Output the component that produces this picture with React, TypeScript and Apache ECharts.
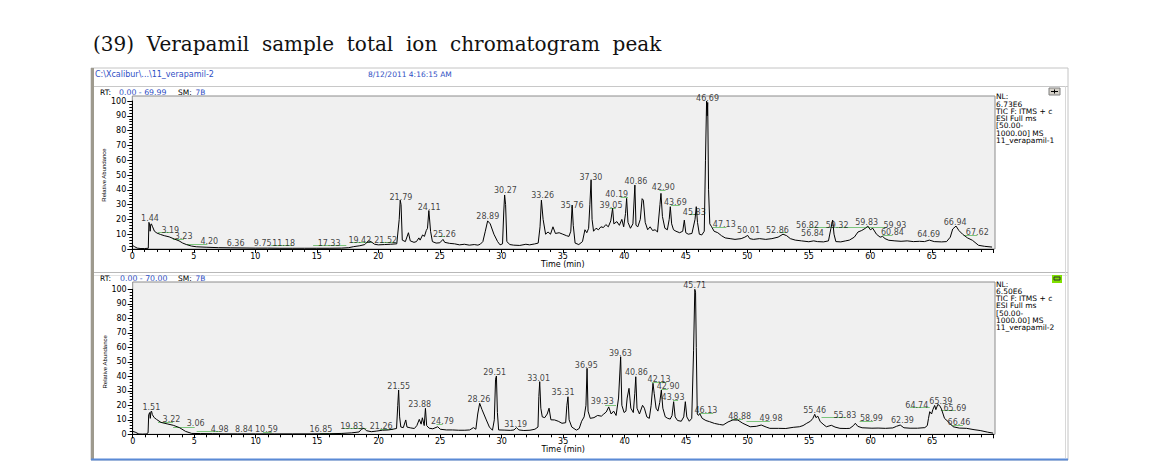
import React, { useEffect, useRef } from "react";
import * as echarts from "echarts";

// ---------- DATA ----------
// Top chromatogram (11_verapamil-1): [time (min), relative abundance]
const topTrace: number[][] = [
  [0.0, 2.5], [0.2, 1.5], [0.4, 0.6], [0.7, 0.3], [1.0, 0.3], [1.3, 0.5], [1.35, 18], [1.4, 17], [1.45, 12],
  [1.5, 16.5], [1.55, 17], [1.65, 15], [1.8, 12], [2.0, 10.8], [2.3, 9.8], [2.6, 9], [3.0, 8.2], [3.4, 6.8],
  [3.8, 5.5], [4.1, 4], [4.4, 3], [4.8, 2], [5.2, 1.5], [6.0, 1.2], [7.0, 0.9], [8.0, 0.8], [9.0, 0.7],
  [10.0, 0.6], [11.0, 0.6], [12.0, 0.5], [13.0, 0.5], [14.0, 0.5], [15.0, 0.5], [16.0, 0.5], [17.0, 0.6],
  [17.6, 0.9], [18.0, 1.6], [18.5, 2.2], [18.9, 3], [19.2, 5.5], [19.4, 5], [19.7, 3.2], [20.0, 2.8],
  [20.5, 3], [21.0, 3.2], [21.5, 3.5], [21.7, 20], [21.78, 33], [21.85, 30], [21.95, 6], [22.2, 5],
  [22.45, 11], [22.6, 5.5], [22.9, 4.5], [23.1, 5], [23.3, 7.5], [23.4, 6], [23.6, 9.5], [23.75, 8.5],
  [23.9, 12.5], [24.0, 14], [24.11, 26], [24.25, 12], [24.4, 5], [24.7, 4], [25.0, 4.2], [25.26, 6.5],
  [25.4, 4.5], [25.8, 3.8], [26.2, 3.5], [26.6, 2.8], [27.0, 3.2], [27.4, 2.6], [27.8, 3], [28.1, 2.6],
  [28.3, 3.3], [28.5, 5], [28.7, 12], [28.89, 19], [29.1, 17], [29.4, 10], [29.7, 5], [29.9, 2.8],
  [30.1, 3.5], [30.2, 25], [30.27, 36.5], [30.35, 30], [30.45, 5], [30.7, 3], [31.0, 2.6], [31.5, 2.4],
  [32.0, 3.2], [32.3, 2.8], [32.7, 3.4], [33.0, 4], [33.15, 15], [33.26, 33], [33.4, 20], [33.6, 10],
  [33.8, 11.5], [34.0, 10], [34.2, 15], [34.4, 10.5], [34.7, 11], [35.0, 10], [35.3, 9], [35.5, 8.5],
  [35.65, 12], [35.76, 29.7], [35.85, 16], [36.0, 4], [36.3, 3], [36.6, 5], [36.8, 13], [36.95, 11],
  [37.1, 14], [37.2, 30], [37.3, 46.6], [37.38, 20], [37.5, 12], [37.7, 14], [37.9, 13], [38.1, 15],
  [38.3, 14.5], [38.5, 16.5], [38.7, 15], [38.9, 19], [39.05, 27.5], [39.15, 17], [39.4, 18.5],
  [39.6, 16], [39.8, 20], [39.95, 15], [40.1, 24], [40.19, 34.2], [40.3, 18], [40.5, 14], [40.7, 17],
  [40.86, 43.2], [40.95, 16], [41.1, 15], [41.3, 20], [41.45, 34], [41.55, 33], [41.7, 18], [41.9, 13],
  [42.1, 15], [42.3, 12.5], [42.5, 13], [42.7, 11.5], [42.9, 30], [42.98, 37.6], [43.1, 22], [43.3, 14],
  [43.5, 13], [43.65, 20], [43.74, 28.6], [43.85, 17], [44.0, 13], [44.2, 12], [44.5, 11], [44.75, 12],
  [44.88, 19.5], [45.0, 11], [45.2, 10], [45.5, 10.5], [45.75, 20], [45.85, 28.6], [45.95, 18],
  [46.1, 10], [46.3, 9.5], [46.5, 12], [46.6, 60], [46.69, 100], [46.74, 90], [46.78, 99], [46.85, 40],
  [46.95, 17], [47.1, 15], [47.3, 12], [47.6, 11], [47.9, 9], [48.2, 7.5], [48.6, 7], [49.0, 6.5],
  [49.5, 7], [49.8, 8], [50.03, 9.2], [50.2, 7], [50.5, 6.5], [51.0, 7], [51.5, 6.5], [52.0, 7],
  [52.5, 8], [52.9, 10], [53.2, 9], [53.5, 7], [53.9, 6], [54.4, 5.5], [55.0, 4.9], [55.4, 5.5],
  [55.7, 5], [56.2, 4.8], [56.6, 5.5], [56.8, 14], [56.94, 19.5], [57.05, 10], [57.2, 5], [57.6, 4.8],
  [58.0, 5.5], [58.3, 6], [58.7, 8], [59.0, 11.5], [59.3, 12.5], [59.6, 14], [59.8, 15.5], [60.0, 13],
  [60.2, 14], [60.5, 10], [60.8, 8], [61.0, 8.5], [61.2, 7], [61.5, 5.9], [62.0, 5.5], [62.5, 5.2],
  [63.0, 5.5], [63.5, 5], [64.0, 5.2], [64.4, 5], [64.8, 6], [65.2, 5], [65.8, 4.8], [66.2, 5],
  [66.5, 8], [66.7, 13.5], [66.97, 15.5], [67.2, 12.5], [67.5, 10], [67.9, 7.5], [68.3, 5.9],
  [68.8, 2.5], [69.3, 1.8], [69.9, 1.3],
];

// Bottom chromatogram (11_verapamil-2)
const bottomTrace: number[][] = [
  [0.0, 2], [0.2, 1.5], [0.5, 0.2], [0.8, 0.1], [1.1, 0.2], [1.25, 1], [1.3, 13.5], [1.38, 15], [1.43, 11],
  [1.48, 15.5], [1.53, 16], [1.6, 13.5], [1.75, 11.5], [1.95, 10.2], [2.3, 8.2], [2.8, 7.2], [3.3, 6.2],
  [3.8, 4.6], [4.3, 2], [4.8, 0.6], [5.5, 0.5], [6.5, 0.4], [7.5, 0.3], [8.5, 0.3], [10.0, 0.3],
  [11.5, 0.3], [13.0, 0.3], [14.5, 0.3], [16.0, 0.4], [17.0, 0.6], [17.8, 1], [18.4, 1.6], [18.6, 3.5],
  [18.8, 4.2], [19.0, 2.5], [19.4, 1.8], [19.8, 2.2], [20.3, 2.8], [20.8, 3], [21.2, 3.6], [21.45, 4],
  [21.55, 20], [21.62, 30.5], [21.7, 12], [21.8, 5], [22.0, 4.6], [22.2, 9.9], [22.3, 5], [22.6, 4.4],
  [22.9, 4], [23.1, 6], [23.3, 10.3], [23.45, 7], [23.55, 11.4], [23.7, 6], [23.8, 17.9], [23.9, 6],
  [24.1, 4.2], [24.4, 3.8], [24.8, 5.2], [25.0, 3.5], [25.5, 3], [26.0, 3], [26.5, 2.8], [27.0, 2.8],
  [27.4, 3], [27.7, 4.6], [27.9, 3.5], [28.05, 14], [28.21, 21.4], [28.4, 17], [28.75, 9.9], [29.0, 5],
  [29.25, 2.8], [29.4, 10], [29.5, 38], [29.57, 40.2], [29.65, 15], [29.75, 3], [30.2, 2.9], [30.7, 2.7],
  [31.0, 3], [31.2, 4.6], [31.4, 3], [31.8, 2.6], [32.3, 2.8], [32.7, 3.5], [32.95, 5], [33.02, 26],
  [33.09, 36.3], [33.18, 18], [33.3, 12], [33.5, 11.5], [33.7, 14], [33.85, 18], [34.0, 10], [34.3, 9.9],
  [34.6, 9], [34.9, 7.6], [35.2, 8], [35.3, 20], [35.39, 25.9], [35.48, 10], [35.7, 5], [36.07, 2.9],
  [36.3, 4], [36.5, 9], [36.7, 12], [36.85, 20], [36.94, 45.5], [37.02, 16], [37.2, 11], [37.5, 11.5],
  [37.8, 13], [38.1, 12.5], [38.3, 14], [38.5, 15.4], [38.7, 18.9], [38.9, 14], [39.1, 16], [39.3, 13],
  [39.5, 25], [39.67, 53.5], [39.77, 20], [39.95, 15], [40.1, 16], [40.2, 25], [40.35, 31.7], [40.5, 18],
  [40.7, 15], [40.82, 28], [40.9, 39.7], [41.0, 18], [41.2, 14], [41.45, 20], [41.6, 18], [41.8, 12],
  [42.0, 11], [42.15, 20], [42.3, 35.2], [42.4, 28], [42.55, 18], [42.7, 16], [42.85, 22], [42.98, 30.5],
  [43.1, 18], [43.3, 12], [43.5, 11], [43.7, 10.5], [43.85, 13], [43.98, 22.5], [44.1, 12], [44.3, 9.5],
  [44.6, 9], [44.8, 12], [44.93, 22.5], [45.05, 12], [45.25, 9], [45.45, 11], [45.6, 58], [45.7, 100],
  [45.76, 98], [45.82, 60], [45.9, 14], [46.0, 13], [46.1, 14.3], [46.3, 11], [46.6, 9.5], [46.9, 8.7],
  [47.3, 7.5], [47.7, 6.8], [48.0, 6.4], [48.4, 8.5], [48.8, 9.9], [49.2, 9.8], [49.6, 7.6], [50.2, 5.2],
  [50.7, 5.5], [51.1, 6.4], [51.5, 5], [51.8, 4.1], [52.5, 4.1], [53.1, 4], [53.7, 4.8], [54.2, 5.2],
  [54.5, 6], [54.8, 7.6], [55.1, 9], [55.3, 11], [55.45, 13.8], [55.55, 11.5], [55.7, 12.5], [55.9, 8.7],
  [56.2, 6.5], [56.4, 5.2], [56.8, 6.2], [57.1, 5], [57.5, 4.1], [58.0, 4], [58.3, 4.1], [58.6, 6],
  [58.75, 7.6], [58.95, 5.5], [59.3, 4.5], [60.1, 4.2], [60.6, 4.3], [61.2, 4.1], [61.8, 4.4], [62.1, 5.5],
  [62.4, 6.4], [62.7, 4.5], [63.2, 4.2], [63.8, 4.2], [64.4, 4.6], [64.6, 6], [64.7, 11], [64.8, 15.6],
  [64.95, 14], [65.05, 17], [65.2, 19.9], [65.3, 17], [65.45, 20.5], [65.6, 19.9], [65.75, 17.5],
  [66.0, 11], [66.3, 8.7], [66.7, 5.2], [67.2, 4.3], [67.8, 4.1], [68.4, 3.2], [68.9, 2.6], [69.5, 1.5],
  [69.95, 0.8],
];

// Peak labels: [text, time at label centre, abundance at label centre]
const topLabels: [string, number, number][] = [
  ["1.44", 1.44, 20.7], ["3.19", 3.09, 12.8], ["3.23", 4.17, 8.3], ["4.20", 6.26, 4.9],
  ["6.36", 8.4, 3.8], ["9.75", 10.6, 3.4], ["11.18", 12.3, 3.4], ["17.33", 16.0, 3.4],
  ["19.42", 18.5, 5.6], ["21.52", 20.6, 6.0], ["21.79", 21.84, 34.9], ["24.11", 24.14, 28.2],
  ["25.26", 25.37, 10.1], ["28.89", 28.9, 21.8], ["30.27", 30.33, 39.4], ["33.26", 33.36, 36.1],
  ["35.76", 35.75, 29.3], ["37.30", 37.29, 48.4], ["39.05", 38.92, 29.1], ["40.19", 39.38, 37.0],
  ["40.86", 40.95, 45.5], ["42.90", 43.17, 41.4], ["43.69", 44.15, 31.2], ["45.83", 45.69, 24.4],
  ["46.69", 46.77, 101.8], ["47.13", 48.13, 16.7], ["50.01", 50.1, 12.4], ["52.86", 52.45, 12.4],
  ["56.82", 54.9, 15.8], ["56.84", 55.3, 10.2], ["59.32", 57.3, 15.8], ["59.83", 59.7, 17.8],
  ["59.93", 62.0, 16.2], ["60.84", 61.8, 11.1], ["64.69", 64.75, 9.5], ["66.94", 66.9, 17.8],
  ["67.62", 68.7, 11.1],
];
const bottomLabels: [string, number, number][] = [
  ["1.51", 1.52, 18.6], ["3.22", 3.15, 9.9], ["3.06", 5.12, 7.6], ["4.98", 7.07, 3.4],
  ["8.84", 9.05, 3.4], ["10.59", 10.87, 3.4], ["16.85", 15.3, 3.4], ["19.83", 17.8, 5.7],
  ["21.26", 20.2, 5.7], ["21.55", 21.63, 33.3], ["23.88", 23.33, 20.6], ["24.79", 25.18, 8.7],
  ["28.26", 28.15, 23.7], ["29.51", 29.43, 42.7], ["31.19", 31.14, 6.9], ["33.01", 33.0, 38.6],
  ["35.31", 34.99, 28.7], ["36.95", 36.88, 47.3], ["39.33", 38.18, 22.3], ["39.63", 39.65, 55.8],
  ["40.86", 40.95, 42.7], ["42.13", 42.79, 38.1], ["42.90", 43.53, 32.8], ["43.93", 43.93, 25.2],
  ["45.71", 45.69, 102.9], ["46.13", 46.6, 16.1], ["48.88", 49.35, 12.1], ["49.98", 51.9, 10.6],
  ["55.46", 55.45, 16.7], ["55.83", 57.9, 13.3], ["58.99", 60.06, 10.6], ["62.39", 62.58, 9.2],
  ["64.74", 63.75, 20.2], ["65.39", 65.7, 22.8], ["65.69", 66.85, 17.9], ["66.46", 67.18, 8.3],
];

// Green leader lines: [from time, to time, abundance]
const topLeaders: number[][] = [
  [2.1, 3.1, 11], [3.3, 4.2, 6.5], [4.4, 6.1, 3.4], [11.3, 13.0, 2.3], [14.7, 17.4, 2.3],
  [17.8, 19.5, 4.5], [20.1, 21.4, 4.3], [24.9, 25.4, 8.3], [38.8, 39.3, 27.4], [39.7, 40.3, 35],
  [42.85, 43.35, 39.9], [43.8, 44.5, 29.7], [45.3, 45.95, 23.3], [47.2, 48.3, 15], [52.6, 53.15, 11],
  [55.0, 61.3, 14.4], [61.0, 61.8, 9.4], [67.6, 68.7, 9.4],
];
const bottomLeaders: number[][] = [
  [2.06, 3.28, 8.3], [3.28, 5.04, 5.2], [5.2, 7.1, 1.8], [10.6, 11.3, 1.1], [15.2, 17.1, 0.6],
  [17.1, 19.0, 4.1], [20.1, 21.2, 3.6], [24.7, 25.2, 7], [38.4, 39.3, 20.2], [42.2, 43.4, 36.2],
  [42.98, 43.5, 31], [43.93, 44.34, 23.7], [46.1, 47.2, 14.4], [48.67, 49.62, 10.6], [49.9, 51.8, 8.7],
  [56.0, 58.0, 11.7], [59.1, 60.2, 8.7], [63.2, 64.8, 18.4], [65.7, 66.8, 16.3], [66.6, 67.5, 6.4],
];

const yTicks = [0, 10, 20, 30, 40, 50, 60, 70, 80, 90, 100];
const titleWords = ["(39)", "Verapamil", "sample", "total", "ion", "chromatogram", "peak"];
const topInfo = ["NL:", "6.73E6", "TIC F: ITMS + c", "ESI Full ms", "[50.00-", "1000.00] MS", "11_verapamil-1"];
const bottomInfo = ["NL:", "6.50E6", "TIC F: ITMS + c", "ESI Full ms", "[50.00-", "1000.00] MS", "11_verapamil-2"];

// ---------- STYLE ----------
const F = "DejaVu Sans";
const BLUE = "#2f4fc4";
const GREEN = "#7cc47c";

const xAxisCfg = (gridIndex: number) => ({
  type: "value",
  gridIndex,
  min: 0,
  max: 70,
  interval: 5,
  axisLine: { show: true, lineStyle: { color: "#000", width: 1 } },
  axisTick: { show: true, length: 4, lineStyle: { color: "#000" } },
  minorTick: { show: true, splitNumber: 5, length: 3, lineStyle: { color: "#000" } },
  axisLabel: {
    fontSize: 8, fontFamily: F, color: "#000", margin: 3,
    formatter: (v: number) => (v >= 70 ? "" : String(v)),
  },
  splitLine: { show: false },
  name: "Time (min)",
  nameLocation: "middle",
  nameGap: 11,
  nameMoveOverlap: false,
  nameTextStyle: { fontSize: 8, fontFamily: F, color: "#000", verticalAlign: "top" },
});

const yAxisCfg = (gridIndex: number) => ({
  type: "value",
  gridIndex,
  min: 0,
  max: 100,
  interval: 10,
  axisLine: { show: true, lineStyle: { color: "#000", width: 1 } },
  axisTick: { show: true, length: 5, lineStyle: { color: "#000" } },
  minorTick: { show: true, splitNumber: 5, length: 3, lineStyle: { color: "#000" } },
  axisLabel: {
    fontSize: 8, fontFamily: F, color: "#000", margin: 6,
    formatter: (v: number) => (yTicks.includes(v) ? String(v) : ""),
  },
  splitLine: { show: false },
  name: "Relative Abundance",
  nameLocation: "middle",
  nameGap: 25,
  nameRotate: 90,
  nameMoveOverlap: false,
  nameTextStyle: { fontSize: 6, fontFamily: "Liberation Sans Narrow, Liberation Sans", color: "#000" },
});

const labelSeries = (idx: number, labels: [string, number, number][]) => ({
  type: "scatter",
  xAxisIndex: idx,
  yAxisIndex: idx,
  symbolSize: 1,
  clip: false,
  silent: true,
  itemStyle: { color: "rgba(0,0,0,0)" },
  label: {
    show: true,
    position: "inside",
    formatter: "{b}",
    fontSize: 8,
    fontFamily: F,
    color: "#111",
  },
  data: labels.map(([text, t, v]) => ({ name: text, value: [t, v] })),
  z: 5,
});

const leaderSeries = (idx: number, leaders: number[][]) => ({
  type: "lines",
  coordinateSystem: "cartesian2d",
  xAxisIndex: idx,
  yAxisIndex: idx,
  silent: true,
  lineStyle: { color: GREEN, width: 1, opacity: 1 },
  data: leaders.map(([a, b, v]) => ({ coords: [[a, v], [b, v]] })),
  z: 3,
});

const txt = (x: number, y: number, text: string, opts: any = {}) => ({
  type: "text",
  x,
  y,
  z: 10,
  style: {
    text,
    fontSize: opts.fontSize ?? 7.5,
    fontFamily: opts.fontFamily ?? F,
    fill: opts.fill ?? "#000",
    textAlign: opts.align ?? "left",
    textVerticalAlign: "middle",
  },
});

const infoBlock = (lines: string[], y0: number) =>
  lines.map((l, i) => txt(996, y0 + i * 7.3, l, { fontSize: 7.5 }));

const option: any = {
  animation: false,
  backgroundColor: "#ffffff",
  grid: [
    { left: 132.3, top: 101, width: 861, height: 148, show: false },
    { left: 132.7, top: 289.3, width: 861, height: 145, show: false },
  ],
  xAxis: [xAxisCfg(0), xAxisCfg(1)],
  yAxis: [yAxisCfg(0), yAxisCfg(1)],
  graphic: [
    // title
    txt(93, 44, titleWords.join("\u00a0\u00a0"), { fontSize: 20, fontFamily: "DejaVu Serif", fill: "#111" }),
    // outer frame
    { type: "rect", z: -20, shape: { x: 91, y: 68, width: 977, height: 392 }, style: { fill: "#fff", stroke: "#c4c4c4", lineWidth: 1 } },
    { type: "rect", z: -19, shape: { x: 91, y: 68, width: 3, height: 392 }, style: { fill: "#9e9a8e" } },
    { type: "line", z: -19, shape: { x1: 94, y1: 86.5, x2: 1068, y2: 86.5 }, style: { stroke: "#c8c8c8", lineWidth: 1 } },
    { type: "line", z: -19, shape: { x1: 94, y1: 272.5, x2: 1068, y2: 272.5 }, style: { stroke: "#b8b8b8", lineWidth: 1 } },
    { type: "line", z: -19, shape: { x1: 94, y1: 275.5, x2: 1068, y2: 275.5 }, style: { stroke: "#e2e2e2", lineWidth: 1 } },
    { type: "line", z: -19, shape: { x1: 1065.5, y1: 86, x2: 1065.5, y2: 458 }, style: { stroke: "#d8d8d8", lineWidth: 1 } },
    { type: "rect", z: -19, shape: { x: 91, y: 458.5, width: 977, height: 2 }, style: { fill: "#5a8ad6" } },
    // plot boxes
    { type: "rect", z: -10, shape: { x: 132.3, y: 96, width: 862.7, height: 153 }, style: { fill: "#f0f0f0", stroke: "#8c8c8c", lineWidth: 1 } },
    { type: "rect", z: -10, shape: { x: 132.7, y: 282, width: 862.3, height: 152.3 }, style: { fill: "#f0f0f0", stroke: "#8c8c8c", lineWidth: 1 } },
    // header
    txt(95, 74, "C:\\Xcalibur\\...\\11_verapamil-2", { fill: BLUE, fontSize: 8 }),
    txt(368, 74, "8/12/2011 4:16:15 AM", { fill: BLUE, fontSize: 7.5 }),
    // RT lines
    txt(100, 92, "RT:", { fontSize: 7.5 }),
    txt(119, 92, "0.00 - 69.99", { fill: BLUE, fontSize: 7.8 }),
    txt(178, 92, "SM:", { fontSize: 7.5 }),
    txt(195.5, 92, "7B", { fill: BLUE, fontSize: 7.5 }),
    txt(100, 278.5, "RT:", { fontSize: 7.5 }),
    txt(120, 278.5, "0.00 - 70.00", { fill: BLUE, fontSize: 7.8 }),
    txt(178, 278.5, "SM:", { fontSize: 7.5 }),
    txt(195.5, 278.5, "7B", { fill: BLUE, fontSize: 7.5 }),
    // info blocks
    ...infoBlock(topInfo, 96.7),
    ...infoBlock(bottomInfo, 284),
    // icons
    { type: "rect", z: 5, shape: { x: 1049, y: 88, width: 11, height: 7 }, style: { fill: "#d4d0c8", stroke: "#808080", lineWidth: 1 } },
    { type: "line", z: 6, shape: { x1: 1051, y1: 91.5, x2: 1058, y2: 91.5 }, style: { stroke: "#000", lineWidth: 1 } },
    { type: "line", z: 6, shape: { x1: 1054.5, y1: 89.5, x2: 1054.5, y2: 93.5 }, style: { stroke: "#000", lineWidth: 1 } },
    { type: "rect", z: 5, shape: { x: 1052, y: 275, width: 10, height: 8 }, style: { fill: "#7fe000" } },
    { type: "rect", z: 6, shape: { x: 1054, y: 277, width: 6, height: 3 }, style: { fill: "none", stroke: "#333", lineWidth: 1 } },
  ],
  series: [
    {
      type: "line", xAxisIndex: 0, yAxisIndex: 0, data: topTrace, showSymbol: false, symbol: "none",
      lineStyle: { color: "#000", width: 1 }, silent: true, z: 4,
    },
    {
      type: "line", xAxisIndex: 1, yAxisIndex: 1, data: bottomTrace, showSymbol: false, symbol: "none",
      lineStyle: { color: "#000", width: 1 }, silent: true, z: 4,
    },
    leaderSeries(0, topLeaders),
    leaderSeries(1, bottomLeaders),
    labelSeries(0, topLabels),
    labelSeries(1, bottomLabels),
  ],
};

export default function App() {
  const ref = useRef<HTMLDivElement>(null);
  useEffect(() => {
    const chart = echarts.init(ref.current!, null, { renderer: "svg" });
    chart.setOption(option);
    return () => chart.dispose();
  }, []);
  return (
    <div
      ref={ref}
      style={{ position: "absolute", left: 0, top: 0, width: 1152, height: 470, background: "#fff" }}
    />
  );
}
